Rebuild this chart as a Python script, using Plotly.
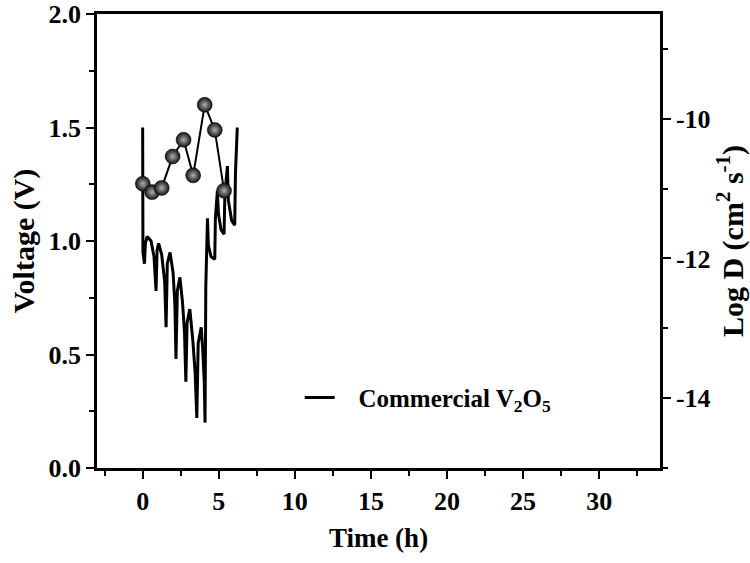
import plotly.graph_objects as go

# Voltage profile (GITT) of commercial V2O5
time_h = [0.00, 0.02, 0.12, 0.18, 0.30, 0.55, 0.75, 0.88, 0.95, 1.05, 1.25, 1.45, 1.54,
          1.62, 1.80, 2.00, 2.12, 2.19, 2.28, 2.45, 2.62, 2.75, 2.84, 2.92, 3.10, 3.30,
          3.45, 3.56, 3.65, 3.85, 3.95, 4.05, 4.10, 4.15, 4.26, 4.32, 4.50, 4.74, 4.78,
          4.91, 4.98, 5.15, 5.35, 5.40, 5.57, 5.63, 5.85, 6.05, 6.10, 6.22]
voltage = [1.50, 0.95, 0.90, 0.99, 1.02, 1.00, 0.93, 0.78, 0.96, 0.99, 0.94, 0.82, 0.62,
           0.90, 0.95, 0.86, 0.72, 0.48, 0.78, 0.84, 0.73, 0.60, 0.38, 0.64, 0.70, 0.56,
           0.42, 0.22, 0.55, 0.62, 0.52, 0.38, 0.20, 0.80, 1.10, 0.98, 0.93, 0.92, 1.10,
           1.22, 1.12, 1.05, 1.03, 1.20, 1.33, 1.18, 1.09, 1.07, 1.30, 1.50]

# Diffusion coefficient points
d_time = [0.01, 0.62, 1.25, 1.97, 2.69, 3.32, 4.08, 4.74, 5.35]
log_d = [-10.93, -11.05, -10.99, -10.54, -10.30, -10.81, -9.80, -10.16, -11.03]

# Tick labels
x_ticks = [0, 5, 10, 15, 20, 25, 30]
v_ticks = [0.0, 0.5, 1.0, 1.5, 2.0]
d_ticks = [-14, -12, -10]

FONT = "Liberation Serif"
TICKFONT = dict(family=FONT, size=26, color="black")


def bold(s):
    return "<b>" + s + "</b>"


fig = go.Figure()
fig.add_trace(go.Scatter(
    x=time_h, y=voltage, mode="lines",
    line=dict(color="black", width=3),
    name=bold("\u00a0\u00a0\u00a0Commercial V<sub>2</sub>O<sub>5</sub>"), yaxis="y"))
fig.add_trace(go.Scatter(
    x=d_time, y=log_d, mode="lines+markers",
    line=dict(color="black", width=2),
    marker=dict(size=15, color="#111111",
                gradient=dict(type="radial", color="#b0b0b0"),
                line=dict(color="#000000", width=0.5)),
    showlegend=False, yaxis="y2"))

axis_common = dict(
    showline=True, linecolor="black", linewidth=2.5,
    ticks="outside", ticklen=8, tickwidth=2, tickcolor="black",
    showgrid=False, zeroline=False, automargin=False,
    tickfont=TICKFONT,
)

fig.update_layout(
    width=750, height=563,
    margin=dict(l=97, r=90, t=14, b=95),
    paper_bgcolor="white", plot_bgcolor="white",
    font=dict(family=FONT, color="black"),
    xaxis=dict(
        range=[-3, 34], mirror=True,
        tickvals=x_ticks, ticktext=[bold(str(v)) for v in x_ticks],
        minor=dict(dtick=2.5, tick0=0, ticks="outside", ticklen=5, tickwidth=2, tickcolor="black"),
        title=dict(text=bold("Time (h)"), font=dict(family=FONT, size=27, color="black"), standoff=14),
        **axis_common),
    yaxis=dict(
        range=[0, 2.0],
        tickvals=v_ticks, ticktext=[bold(f"{v:.1f}") for v in v_ticks],
        minor=dict(dtick=0.25, ticks="outside", ticklen=5, tickwidth=2, tickcolor="black"),
        title=dict(text=bold("Voltage (V)"), font=dict(family=FONT, size=30, color="black"), standoff=6),
        **axis_common),
    yaxis2=dict(
        range=[-15, -8.5], overlaying="y", side="right",
        tickvals=d_ticks, ticktext=[bold(str(v)) for v in d_ticks],
        minor=dict(dtick=1, tick0=0, ticks="outside", ticklen=5, tickwidth=2, tickcolor="black"),
        title=dict(text=bold("Log D (cm<sup>2</sup> s<sup>-1</sup>)"), font=dict(family=FONT, size=30, color="black"), standoff=14),
        **axis_common),
    legend=dict(x=0.36, y=0.155, xanchor="left", yanchor="middle",
                bgcolor="rgba(0,0,0,0)",
                font=dict(family=FONT, size=25, color="black")),
)

fig.write_html("out.html")
